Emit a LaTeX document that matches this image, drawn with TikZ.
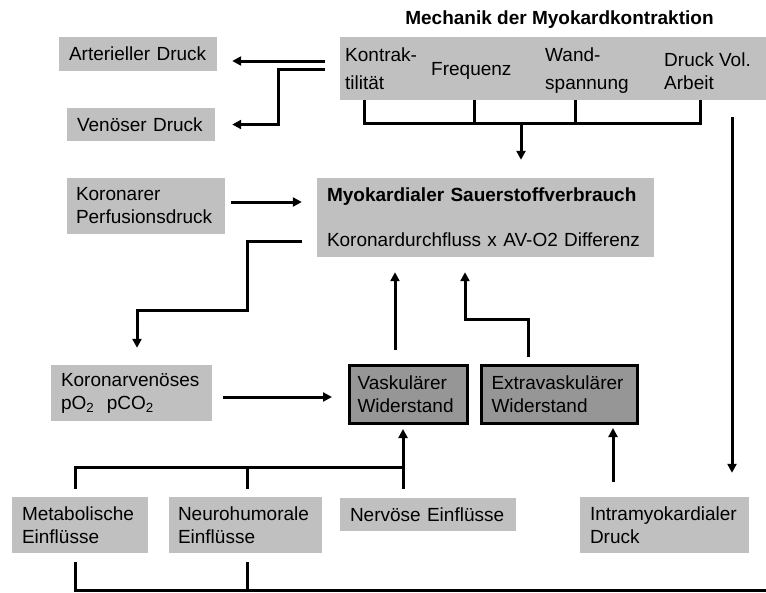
\documentclass[tikz,border=0pt]{standalone}
\usepackage{fontspec}
\setmainfont{Liberation Sans}
\usetikzlibrary{arrows.meta}
\definecolor{boxgray}{RGB}{192,192,192}
\definecolor{widergray}{RGB}{150,150,150}

\begin{document}
\begin{tikzpicture}[x=1pt,y=-1pt,font=\fontsize{19}{23}\selectfont]
  \useasboundingbox (0,0) rectangle (766,592);

  \node (title) at (559.5,20) {\bfseries Mechanik der Myokardkontraktion};

  \begin{scope}[every node/.style={fill=boxgray,inner ysep=0pt,inner xsep=10pt,align=left}]
    \node[minimum width=426pt,minimum height=63pt] (mech) at (553,68.5) {};
    \node[text width=138pt,minimum height=34pt] (art) at (138,54) {Arterieller Druck};
    \node[text width=128pt,minimum height=33pt] (ven) at (141,124.5) {Venöser Druck};
    \node[inner xsep=9pt,text width=140pt,minimum height=56pt] (kor) at (146,206) {Koronarer\\Perfusionsdruck};
    \node[text width=317pt,minimum height=79pt] (myo) at (485.5,217.5)
      {\textbf{Myokardialer Sauerstoffverbrauch}\\[22pt]Koronardurchfluss x AV-O2 Differenz};
    \node[text width=141pt,minimum height=56pt] (kv) at (131.5,393)
      {Koronarvenöses\\pO\textsubscript{2}\ \ pCO\textsubscript{2}};
    \node[inner xsep=10pt,text width=116pt,minimum height=56pt] (met) at (80,525) {Metabolische\\Einflüsse};
    \node[inner xsep=9pt,text width=135pt,minimum height=56pt] (neu) at (245.5,525) {Neurohumorale\\Einflüsse};
    \node[text width=156pt,minimum height=33pt] (nerv) at (428,514.5) {Nervöse Einflüsse};
    \node[text width=149pt,minimum height=56pt] (intra) at (664.5,525) {Intramyokardialer\\Druck};
  \end{scope}

  \begin{scope}[every node/.style={anchor=west,inner sep=0pt,align=left}]
    \node (kon) at (345,69) {Kontrak-\\[5pt]tilität};
    \node (freq) at (431,71) {Frequenz};
    \node (wand) at (545,71) {Wand-\\[5pt]spannung};
    \node (drk) at (664,71) {Druck Vol.\\Arbeit};
  \end{scope}

  \begin{scope}[every node/.style={fill=widergray,draw=black,line width=3pt,inner ysep=0pt,inner xsep=8pt,align=left}]
    \node[text width=102pt,minimum height=58pt] (vask) at (408.5,394.5) {Vaskulärer\\Widerstand};
    \node[inner xsep=10pt,text width=136pt,minimum height=58pt] (extra) at (559.5,394.5) {Extravaskulärer\\Widerstand};
  \end{scope}

  \begin{scope}[>={Triangle[length=9pt,width=9pt]},line width=3pt]
    \draw[->,shorten <=15pt,shorten >=15pt] (mech.west |- 0,61) -- (art.east |- 0,61);
    \draw[->,shorten <=15pt,shorten >=17pt] (mech.west |- 0,69) -- (278,69) |- (ven.east);
    \draw (mech.south -| 364,0) |- (700,123) -- (mech.south -| 700,0);
    \draw (mech.south -| 474,0) -- (474,123);
    \draw (mech.south -| 575,0) -- (575,123);
    \draw[->,shorten >=18pt] (521,123) -- (myo.north -| 521,0);
    \draw[->,shorten <=17pt,shorten >=24pt] (mech.south -| 732,0) -- (intra.north -| 732,0);
    \draw[->,shorten <=6pt,shorten >=15pt] (kor.east |- 0,202) -- (myo.west |- 0,202);
    \draw[->,shorten <=15pt,shorten >=17pt] (myo.west |- 0,241) -| (247,310) -| (kv.north -| 137,0);
    \draw[->,shorten <=11pt,shorten >=16pt] (kv.east |- 0,397) -- (vask.west |- 0,397);
    \draw[->,shorten <=14pt,shorten >=15pt] (vask.north -| 395,0) -- (myo.south -| 395,0);
    \draw[->,shorten <=7pt,shorten >=15pt] (extra.north -| 528,0) |- (465,319) -- (myo.south -| 465,0);
    \draw[shorten <=8pt] (met.north -| 75,0) |- (403,467);
    \draw[shorten <=8pt] (neu.north -| 247,0) -- (247,467);
    \draw[->,shorten <=9pt,shorten >=4pt] (nerv.north -| 403,0) -- (vask.south -| 403,0);
    \draw[->,shorten <=15pt,shorten >=3pt] (intra.north -| 613,0) -- (extra.south -| 613,0);
    \draw[shorten <=9pt] (met.south -| 75,0) |- (766,590);
    \draw[shorten <=9pt] (neu.south -| 247,0) -- (247,590);
  \end{scope}
\end{tikzpicture}
\end{document}
